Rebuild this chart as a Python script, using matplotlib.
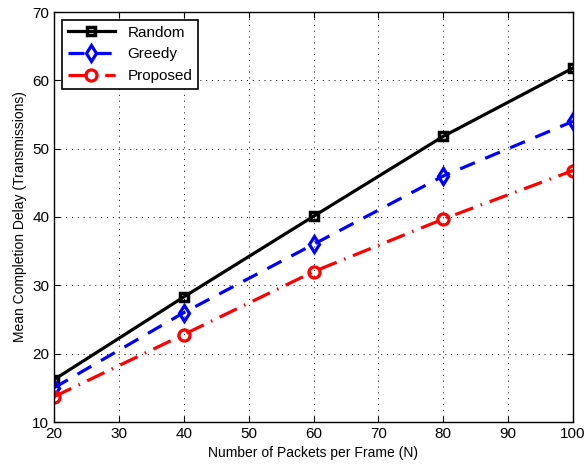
import matplotlib
matplotlib.use('Agg')
import matplotlib.pyplot as plt

plt.rcParams['font.family'] = ['Liberation Sans', 'DejaVu Sans']

# data
packets = [20, 40, 60, 80, 100]
random_delay = [16.2, 28.3, 40.1, 51.8, 61.8]
greedy_delay = [15.0, 26.0, 36.0, 46.0, 54.0]
proposed_delay = [13.7, 22.8, 32.0, 39.7, 46.8]

fig = plt.figure(figsize=(5.87, 4.67), dpi=100)
ax = fig.add_axes([54 / 587, 45 / 467, 519 / 587, 410 / 467])

ax.plot(packets, random_delay, color='black', linestyle='-', linewidth=2.3,
        marker='s', markersize=6, markerfacecolor='none', markeredgewidth=2.5, label='Random')
ax.plot(packets, greedy_delay, color='blue', linestyle=(0, (5, 3.5)), linewidth=2.3,
        marker='d', markersize=8, markerfacecolor='none', markeredgewidth=2.3, label='Greedy')
ax.plot(packets, proposed_delay, color='red', linestyle=(0, (6, 2.5, 0.5, 2.5)), linewidth=2.3,
        marker='o', markersize=8, markerfacecolor='none', markeredgewidth=2.3, label='Proposed')

ax.set_xlim(20, 100)
ax.set_ylim(10, 70)
ax.set_xticks(range(20, 101, 10))
ax.set_yticks(range(10, 71, 10))
ax.tick_params(direction='in', labelsize=11, length=4, top=True, right=True)
ax.grid(True, linestyle=(0, (1, 5)), color='black', linewidth=0.7)
ax.set_xlabel('Number of Packets per Frame (N)', fontsize=10)
ax.set_ylabel('Mean Completion Delay (Transmissions)', fontsize=10)
for s in ax.spines.values():
    s.set_linewidth(1)

leg = ax.legend(loc='upper left', fontsize=11, fancybox=False, framealpha=1,
                edgecolor='black', handlelength=3.1, borderaxespad=0.5,
                labelspacing=0.5)
leg.get_frame().set_linewidth(1.2)

fig.savefig('out.png', dpi=100)
